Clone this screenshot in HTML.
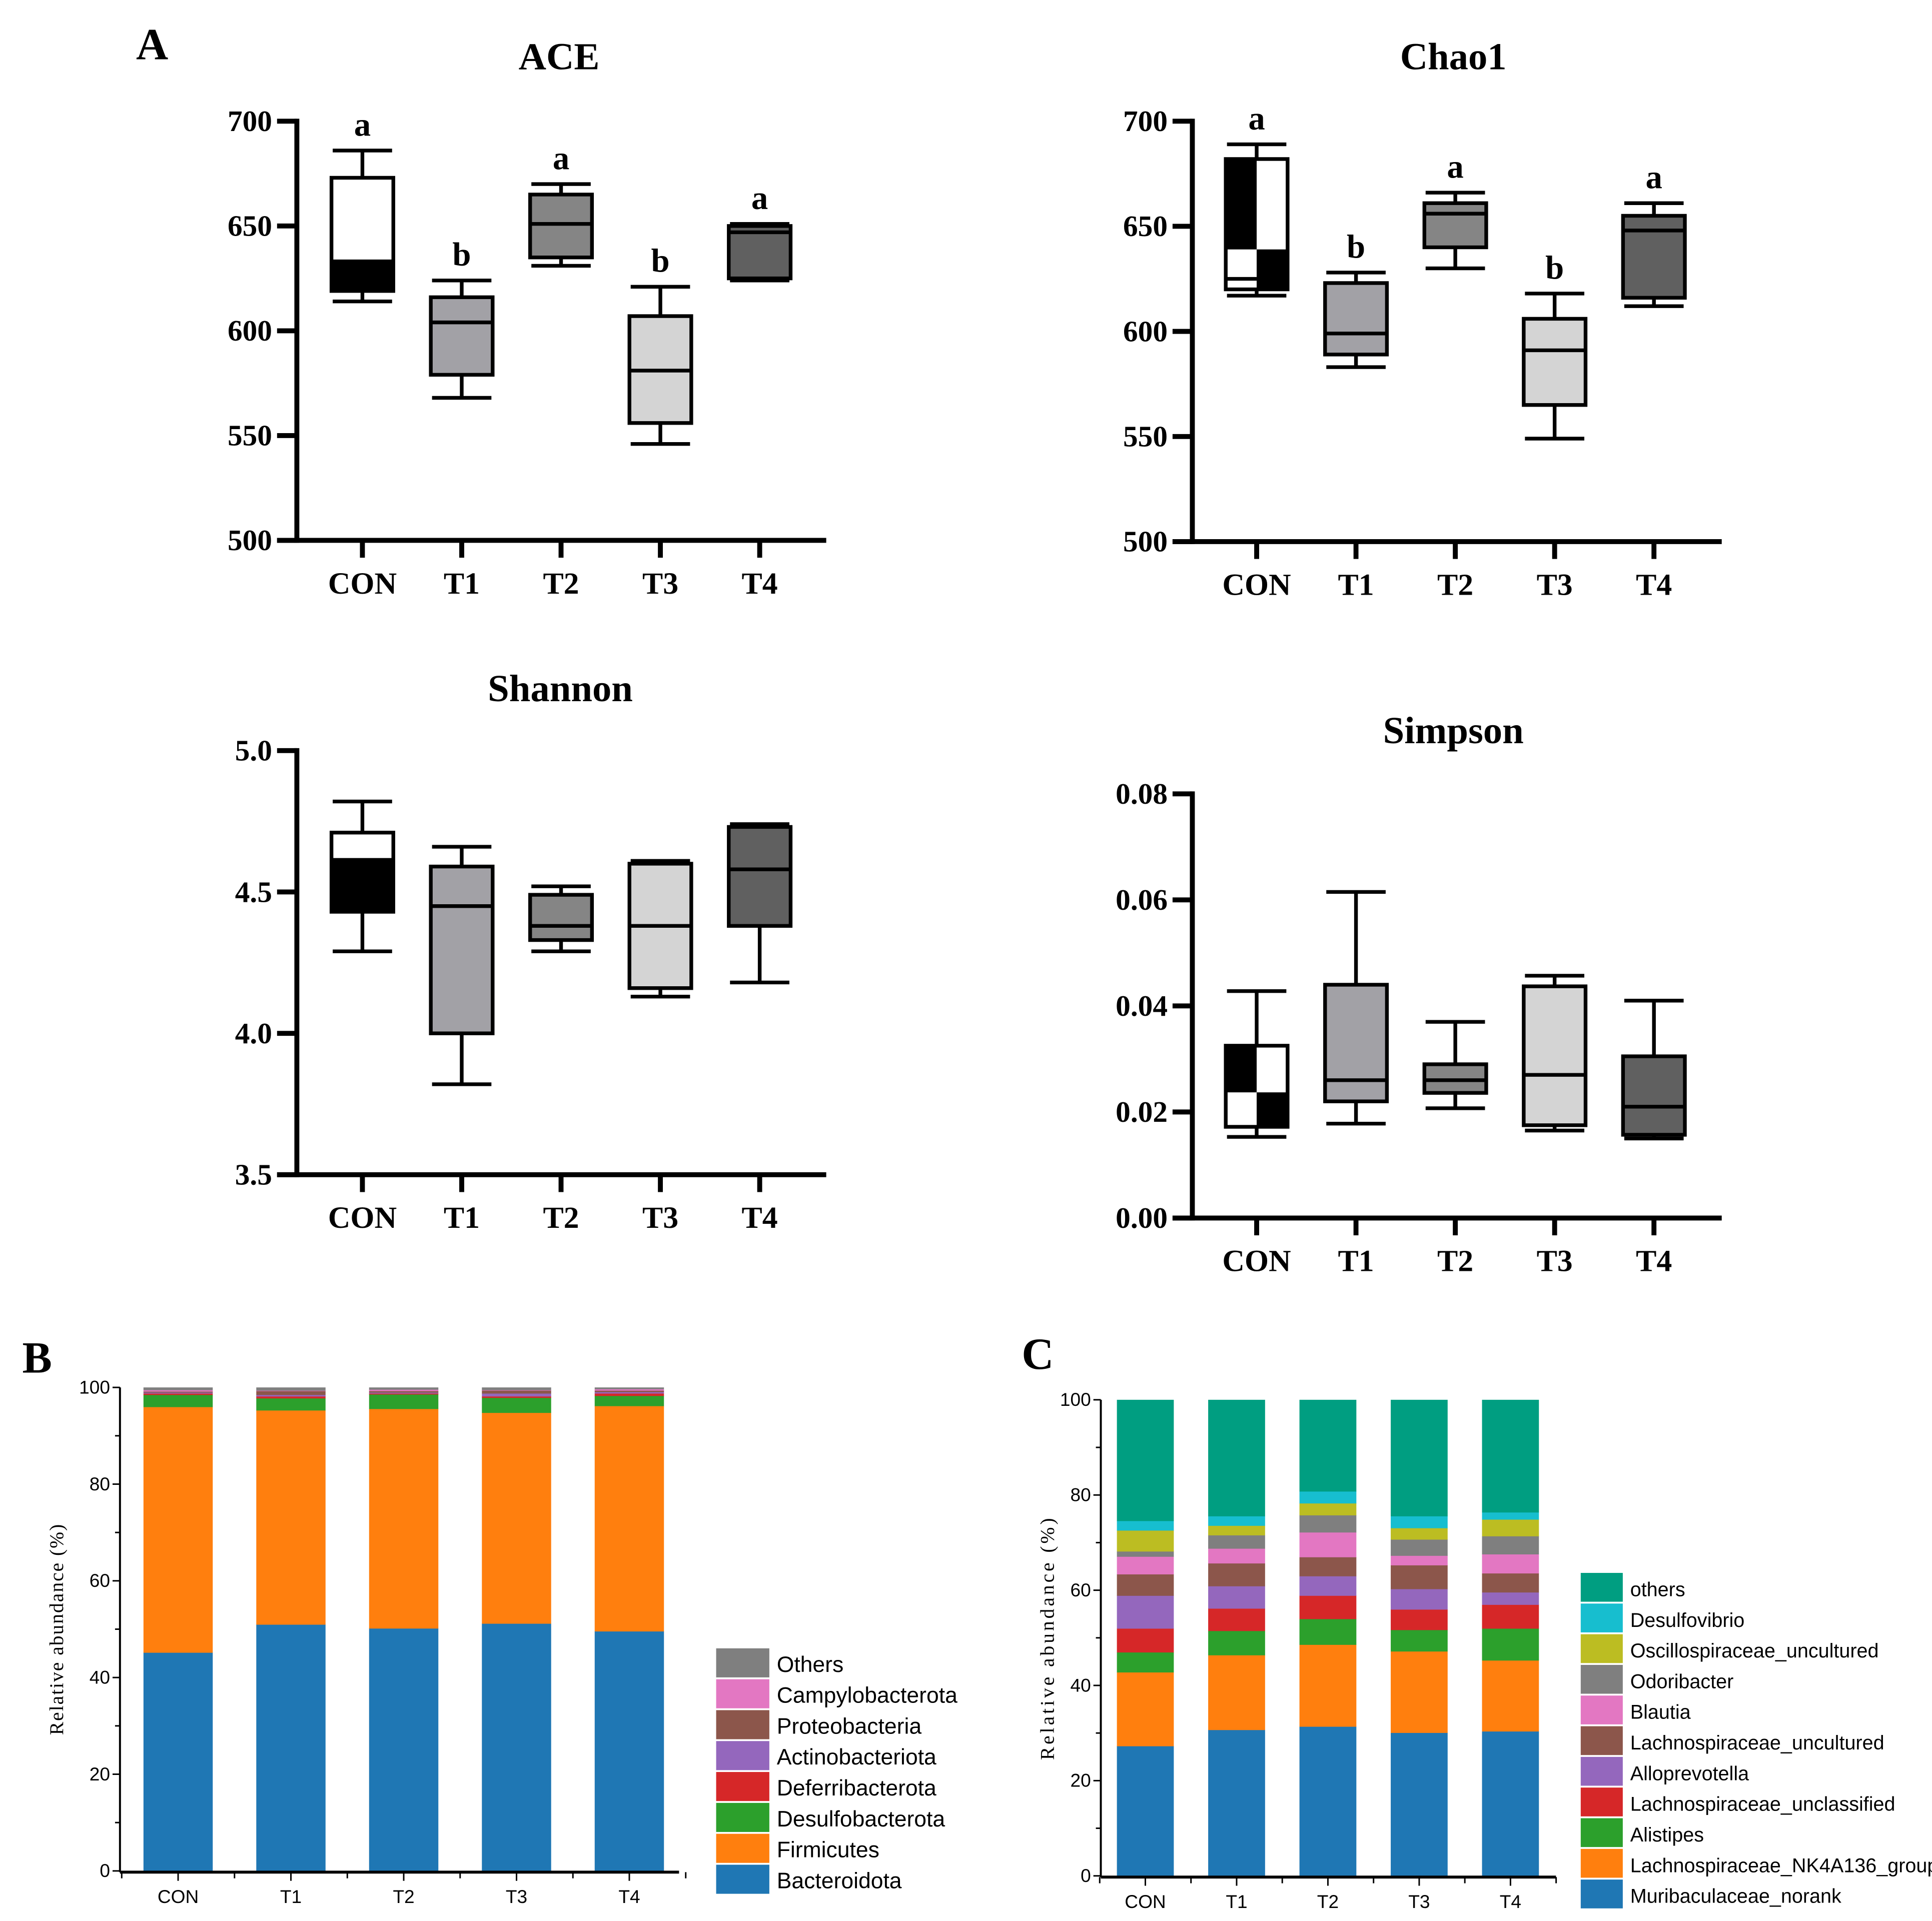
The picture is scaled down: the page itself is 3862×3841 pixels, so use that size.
<!DOCTYPE html>
<html><head><meta charset="utf-8">
<style>
html,body{margin:0;padding:0;background:#fff;}
svg{display:block;}
.serif{font-family:"Liberation Serif",serif;}
.narrow{font-family:"Liberation Sans Narrow","Liberation Sans",sans-serif;}
</style></head>
<body>
<svg id="fig" xmlns="http://www.w3.org/2000/svg" width="3862" height="3841" viewBox="0 0 1562 1553.5"></svg>
<script>
// ---------- data ----------
const groups = ["CON","T1","T2","T3","T4"];
// ACE
const aceMin=[614,568,631,546,624], aceQ1=[619,579,635,556,625], aceMed=[634,604,651,581,647], aceQ3=[673,616,665,607,650], aceMax=[686,624,670,621,651];
const aceLetters=["a","b","a","b","a"];
const aceTicks=[500,550,600,650,700];
// Chao1
const chaoMin=[617,583,630,549,612], chaoQ1=[620,589,640,565,616], chaoMed=[639,599,656,591,648], chaoQ3=[682,623,661,606,655], chaoMax=[689,628,666,618,661];
const chaoLetters=["a","b","a","b","a"];
const chaoTicks=[500,550,600,650,700];
// Shannon
const shMin=[4.29,3.82,4.29,4.13,4.18], shQ1=[4.43,4.0,4.33,4.16,4.38], shMed=[4.62,4.45,4.38,4.38,4.58], shQ3=[4.71,4.59,4.49,4.60,4.73], shMax=[4.82,4.66,4.52,4.61,4.74];
const shTicks=[3.5,4.0,4.5,5.0];
// Simpson
const siMin=[0.0153,0.0178,0.0207,0.0165,0.015], siQ1=[0.0172,0.022,0.0236,0.0175,0.0157], siMed=[0.0237,0.026,0.026,0.027,0.021], siQ3=[0.0325,0.044,0.029,0.0437,0.0305], siMax=[0.0428,0.0615,0.037,0.0457,0.041];
const siTicks=[0,0.02,0.04,0.06,0.08];
const boxFills=["#ffffff","#a2a1a6","#858585","#d4d4d4","#606060"];

// Phylum (B): values in % per group, bottom to top
const phyla=["Bacteroidota","Firmicutes","Desulfobacterota","Deferribacterota","Actinobacteriota","Proteobacteria","Campylobacterota","Others"];
const bBacteroidota=[45.2,51.0,50.2,51.2,49.6];
const bFirmicutes=[50.8,44.3,45.4,43.6,46.6];
const bDesulfo=[2.5,2.5,3.0,3.1,2.1];
const bDeferri=[0.3,0.4,0.2,0.3,0.5];
const bActino=[0.2,0.3,0.2,0.6,0.3];
const bProteo=[0.2,0.8,0.3,0.6,0.3];
const bCampy=[0.3,0.1,0.3,0.1,0.3];
const bOthers=[0.5,0.6,0.4,0.5,0.3];
const phylaColors=["#1f77b4","#ff7f0e","#2ca02c","#d62728","#9467bd","#8c564b","#e377c2","#7f7f7f"];

// Genus (C)
const genera=["Muribaculaceae_norank","Lachnospiraceae_NK4A136_group","Alistipes","Lachnospiraceae_unclassified","Alloprevotella","Lachnospiraceae_uncultured","Blautia","Odoribacter","Oscillospiraceae_uncultured","Desulfovibrio","others"];
const cMuri=[27.3,30.7,31.4,30.1,30.4];
const cNK=[15.5,15.7,17.2,17.1,14.9];
const cAlis=[4.2,5.1,5.4,4.5,6.7];
const cLuncl=[5.0,4.7,4.9,4.3,5.0];
const cAllo=[6.9,4.7,4.1,4.3,2.6];
const cLuncu=[4.5,4.8,4.0,5.0,4.0];
const cBlautia=[3.7,3.1,5.2,2.0,4.0];
const cOdori=[1.1,2.8,3.6,3.4,3.8];
const cOscill=[4.4,2.0,2.5,2.4,3.5];
const cDesulfo=[2.0,2.0,2.5,2.5,1.5];
const cOthers=[25.4,24.4,19.2,24.4,23.6];
const generaColors=["#1f77b4","#ff7f0e","#2ca02c","#d62728","#9467bd","#8c564b","#e377c2","#7f7f7f","#bcbd22","#17becf","#009e81"];
const stackTicks=[0,20,40,60,80,100];

// ---------- helpers ----------
const NS="http://www.w3.org/2000/svg";
const svg=document.getElementById('fig');
function mk(tag,attrs,parent,text){const e=document.createElementNS(NS,tag);for(const k in attrs)e.setAttribute(k,attrs[k]);if(text!==undefined)e.textContent=text;(parent||svg).appendChild(e);return e;}
function scale(d0,d1,r0,r1){return v=>r0+(v-d0)*(r1-r0)/(d1-d0);}

// panel letters
let pl;
pl=mk('text',{x:110,y:48,'font-size':36,'font-weight':'bold',class:'serif'},svg,'A');


pl=mk('text',{x:18,y:1110,'font-size':36,'font-weight':'bold',class:'serif'},svg,'B');


pl=mk('text',{x:826,y:1107,'font-size':36,'font-weight':'bold',class:'serif'},svg,'C');



// ---------- box plots ----------
function boxChart(o){
  const g=mk('g',{});
  
  
  const y=scale(o.d0,o.d1,o.yBottom,o.yTop);
  const xs=groups.map((_,i)=>o.x0+o.step*i);
  const t=mk('text',{x:o.titleX,y:o.titleY,'font-size':31,'font-weight':'bold','text-anchor':'middle',class:'serif'},g,o.title);
  
  
  // axes
  const ya=mk('line',{x1:o.axisX,y1:o.yTop-2,x2:o.axisX,y2:o.yBottom+2,stroke:'#000','stroke-width':4},g);
  
  
  const xa=mk('line',{x1:o.axisX-16,y1:o.yBottom,x2:o.axisRight,y2:o.yBottom,stroke:'#000','stroke-width':4},g);
  
  
  o.ticks.forEach(v=>{
    const tk=mk('line',{x1:o.axisX-16,y1:y(v),x2:o.axisX,y2:y(v),stroke:'#000','stroke-width':4},g);
    
    
    const tl=mk('text',{x:o.axisX-20,y:y(v)+8,'font-size':24,'font-weight':'bold','text-anchor':'end',class:'serif'},g,o.fmt(v));
    
    
  });
  const bw=50;
  groups.forEach((gn,i)=>{
    const x=xs[i];
    const tk=mk('line',{x1:x,y1:o.yBottom,x2:x,y2:o.yBottom+14,stroke:'#000','stroke-width':4},g);
    
    
    const xl=mk('text',{x:x,y:o.yBottom+43,'font-size':25,'font-weight':'bold','text-anchor':'middle',class:'serif'},g,gn);
    
    
    const bg=mk('g',{},g);
    
    
    const mn=y(o.min[i]),q1=y(o.q1[i]),md=y(o.med[i]),q3=y(o.q3[i]),mx=y(o.max[i]);
    // whiskers
    mk('line',{x1:x,y1:mx,x2:x,y2:q3,stroke:'#000','stroke-width':3},bg);
    mk('line',{x1:x,y1:q1,x2:x,y2:mn,stroke:'#000','stroke-width':3},bg);
    mk('line',{x1:x-24,y1:mx,x2:x+24,y2:mx,stroke:'#000','stroke-width':3},bg);
    mk('line',{x1:x-24,y1:mn,x2:x+24,y2:mn,stroke:'#000','stroke-width':3},bg);
    mk('rect',{x:x-bw/2,y:q3,width:bw,height:q1-q3,fill:boxFills[i]},bg);
    if(i===0){
      if(o.pattern==='lower'){
        mk('rect',{x:x-bw/2,y:md,width:bw,height:q1-md,fill:'#000'},bg);
      } else {
        const split=y(o.split);
        mk('rect',{x:x-bw/2,y:q3,width:bw/2,height:split-q3,fill:'#000'},bg);
        mk('rect',{x:x,y:split,width:bw/2,height:q1-split,fill:'#000'},bg);
        if(o.extraLine!==undefined){const el=y(o.extraLine);mk('line',{x1:x-bw/2,y1:el,x2:x,y2:el,stroke:'#000','stroke-width':3},bg);}
      }
    } else {
      mk('line',{x1:x-bw/2,y1:md,x2:x+bw/2,y2:md,stroke:'#000','stroke-width':3},bg);
    }
    mk('rect',{x:x-bw/2,y:q3,width:bw,height:q1-q3,fill:'none',stroke:'#000','stroke-width':3},bg);
    if(o.letters){
      const lt=mk('text',{x:x,y:mx-12,'font-size':27,'font-weight':'bold','text-anchor':'middle',class:'serif'},g,o.letters[i]);
      
      
    }
  });
}
boxChart({name:'ace-chart',title:'ACE',titleX:452,titleY:56,axisX:240,axisRight:668,yTop:98,yBottom:437,d0:500,d1:700,x0:293,step:80.3,
  min:aceMin,q1:aceQ1,med:aceMed,q3:aceQ3,max:aceMax,letters:aceLetters,ticks:aceTicks,fmt:v=>String(v),pattern:'lower'});
boxChart({name:'chao1-chart',title:'Chao1',titleX:1175,titleY:56,axisX:964,axisRight:1392,yTop:98,yBottom:438,d0:500,d1:700,x0:1016,step:80.3,
  min:chaoMin,q1:chaoQ1,med:chaoMed,q3:chaoQ3,max:chaoMax,letters:chaoLetters,ticks:chaoTicks,fmt:v=>String(v),pattern:'checker',split:639,extraLine:625});
boxChart({name:'shannon-chart',title:'Shannon',titleX:453,titleY:567,axisX:240,axisRight:668,yTop:607,yBottom:950,d0:3.5,d1:5.0,x0:293,step:80.3,
  min:shMin,q1:shQ1,med:shMed,q3:shQ3,max:shMax,ticks:shTicks,fmt:v=>v.toFixed(1),pattern:'lower'});
boxChart({name:'simpson-chart',title:'Simpson',titleX:1175,titleY:601,axisX:964,axisRight:1392,yTop:642,yBottom:985,d0:0,d1:0.08,x0:1016,step:80.3,
  min:siMin,q1:siQ1,med:siMed,q3:siQ3,max:siMax,ticks:siTicks,fmt:v=>v.toFixed(2),pattern:'checker',split:0.0237});

// ---------- stacked bars ----------
function stackChart(o){
  const g=mk('g',{});
  
  
  const y=scale(0,100,o.yBottom,o.yTop);
  const xs=groups.map((_,i)=>o.x0+o.step*i);
  groups.forEach((gn,i)=>{
    let acc=0;
    o.series.forEach((s,k)=>{
      const v=s[i];
      const r=mk('rect',{x:xs[i]-o.bw/2,y:y(acc+v),width:o.bw,height:y(acc)-y(acc+v)+0.3,fill:o.colors[k]},g);
      
      
      acc+=v;
    });
  });
  const ya=mk('line',{x1:o.axisX,y1:o.yTop,x2:o.axisX,y2:o.yBottom+1,stroke:'#000','stroke-width':1.6},g);
  
  
  const xa=mk('line',{x1:o.axisX,y1:o.yBottom+1,x2:o.axisRight,y2:o.yBottom+1,stroke:'#000','stroke-width':2.4},g);
  
  
  for(let v=0;v<=100;v+=10){
    const major=v%20===0;
    mk('line',{x1:o.axisX-(major?6:4),y1:y(v),x2:o.axisX,y2:y(v),stroke:'#000','stroke-width':1.2},g);
  }
  stackTicks.forEach(v=>{
    const tl=mk('text',{x:o.axisX-8,y:y(v)+5,'font-size':15,'text-anchor':'end',class:'narrow'},g,String(v));
    
    
  });
  groups.forEach((gn,i)=>{
    mk('line',{x1:xs[i],y1:o.yBottom+1,x2:xs[i],y2:o.yBottom+8,stroke:'#000','stroke-width':1.2},g);
    mk('line',{x1:xs[i]+o.step/2,y1:o.yBottom+1,x2:xs[i]+o.step/2,y2:o.yBottom+6,stroke:'#000','stroke-width':1.2},g);
    const xl=mk('text',{x:xs[i],y:o.yBottom+26,'font-size':15,'text-anchor':'middle',class:'narrow'},g,gn);
    
    
  });
  mk('line',{x1:xs[0]-o.step/2,y1:o.yBottom+1,x2:xs[0]-o.step/2,y2:o.yBottom+6,stroke:'#000','stroke-width':1.2},g);
  const yt=mk('text',{x:0,y:0,'font-size':16,'text-anchor':'middle','letter-spacing':o.ls,class:'serif',transform:`translate(${o.titleX},${(o.yTop+o.yBottom)/2}) rotate(-90)`},g,'Relative abundance (%)');
  
  
  // legend top->bottom reversed
  const n=o.labels.length;
  for(let k=n-1;k>=0;k--){
    const row=n-1-k;
    const ly=o.legTop+row*o.legStep;
    const le=mk('g',{},g);
    
    
    mk('rect',{x:o.legX,y:ly,width:o.legW,height:o.legStep-1.5,fill:o.colors[k]},le);
    mk('text',{x:o.legX+o.legW+6,y:ly+o.legStep-6,'font-size':o.legFont,class:'narrow'},le,o.labels[k]);
  }
}
stackChart({name:'phylum-stacked-bar-chart',axisX:97,axisRight:549,yTop:1122,yBottom:1513,x0:144,step:91.2,bw:56,
  series:[bBacteroidota,bFirmicutes,bDesulfo,bDeferri,bActino,bProteo,bCampy,bOthers],colors:phylaColors,labels:phyla,
  titleX:51,ls:0.8,legX:579,legTop:1333,legStep:25,legW:43,legFont:18});
stackChart({name:'genus-stacked-bar-chart',axisX:890,axisRight:1258,yTop:1132,yBottom:1517,x0:926,step:73.8,bw:46,
  series:[cMuri,cNK,cAlis,cLuncl,cAllo,cLuncu,cBlautia,cOdori,cOscill,cDesulfo,cOthers],colors:generaColors,labels:genera,
  titleX:852,ls:2,legX:1278,legTop:1272,legStep:24.8,legW:34,legFont:16});
</script>
</body></html>
